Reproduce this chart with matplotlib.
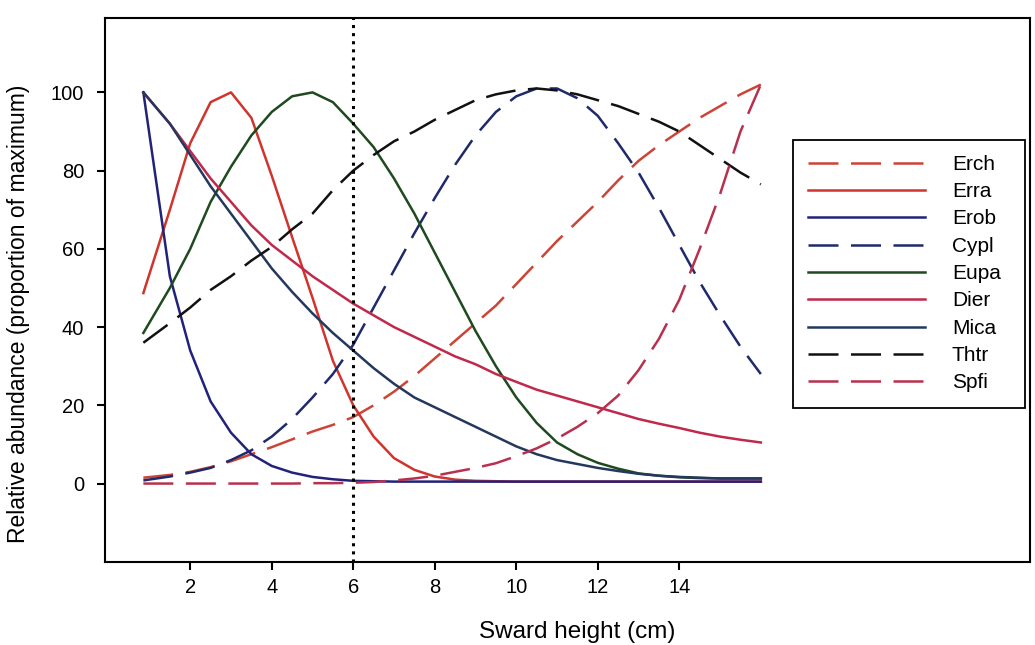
import matplotlib
matplotlib.use("Agg")
import matplotlib.pyplot as plt
from matplotlib.patches import Rectangle

plt.rcParams["font.family"] = ["Liberation Sans", "DejaVu Sans"]

# Sward height (cm) at which the curves were read
height = [0.85, 1.5, 2, 2.5, 3, 3.5, 4, 4.5, 5, 5.5, 6, 6.5, 7, 7.5, 8, 8.5,
          9, 9.5, 10, 10.5, 11, 11.5, 12, 12.5, 13, 13.5, 14, 14.5, 15, 15.5, 16]

# Relative abundance (proportion of maximum)
erch = [1.5, 2.2, 3, 4.2, 5.7, 7.5, 9.3, 11.3, 13.3, 15, 17, 20, 23.5, 27.5, 32, 36.5,
        41, 45.5, 51, 56.5, 62, 67, 72, 77.5, 82.5, 86.5, 90, 93.5, 96.5, 99.5, 102]
erra = [48.7, 70, 87, 97.5, 100, 93.5, 78.7, 63, 47.5, 31.4, 20, 12, 6.5, 3.5, 1.8, 1.0,
        0.7, 0.6, 0.5, 0.5, 0.5, 0.5, 0.5, 0.5, 0.5, 0.5, 0.5, 0.5, 0.5, 0.5, 0.5]
erob = [100, 53, 34, 21, 13, 7.5, 4.5, 2.8, 1.7, 1.1, 0.7, 0.6, 0.5, 0.5, 0.5, 0.5,
        0.5, 0.5, 0.5, 0.5, 0.5, 0.5, 0.5, 0.5, 0.5, 0.5, 0.5, 0.5, 0.5, 0.5, 0.5]
cypl = [0.8, 1.8, 2.8, 4, 6, 8.5, 12, 16.5, 22, 28, 35.5, 45, 54.5, 64, 73, 81.5,
        89, 95, 99, 101, 101, 98.5, 94, 87, 79.5, 70.5, 61, 51.5, 43, 35, 28]
eupa = [38.5, 50, 60, 72, 81, 89, 95, 99, 100, 97.5, 92, 86, 78, 69, 59, 49,
        39, 30, 22, 15.5, 10.5, 7.5, 5.3, 3.8, 2.6, 2, 1.6, 1.4, 1.3, 1.3, 1.3]
dier = [100, 92, 85, 78, 72, 66, 61, 57, 53, 49.5, 46, 43, 40, 37.5, 35, 32.5,
        30.5, 28, 26, 24, 22.5, 21, 19.5, 18, 16.5, 15.3, 14.2, 13, 12, 11.2, 10.5]
mica = [100, 92, 84, 76, 69, 62, 55, 49, 43.5, 38.5, 34, 29.5, 25.5, 22, 19.5, 17,
        14.5, 12, 9.5, 7.5, 6, 5, 4, 3.2, 2.5, 2, 1.7, 1.5, 1.3, 1.3, 1.3]
thtr = [36, 41, 45, 49.5, 53, 57, 60.5, 65, 69, 75, 80, 84, 87.5, 90, 93, 95.5,
        98, 99.5, 100.5, 101, 100.5, 99.5, 98, 96.5, 94.5, 92.5, 90, 86.5, 83, 79.5, 76.5]
spfi = [0, 0, 0, 0, 0, 0, 0, 0, 0.1, 0.1, 0.2, 0.4, 0.8, 1.3, 2, 3,
        4, 5.2, 7, 9, 11.5, 14.5, 18, 22.5, 29, 37, 47, 60, 74, 90, 102]

species = ["Erch", "Erra", "Erob", "Cypl", "Eupa", "Dier", "Mica", "Thtr", "Spfi"]
series = [erch, erra, erob, cypl, eupa, dier, mica, thtr, spfi]
colors = ["#cc4436", "#d0342c", "#22227a", "#1f2a6c", "#1f4a1f",
          "#c0284c", "#24385e", "#111111", "#b8304f"]
dashed = [True, False, False, True, False, False, False, True, True]

cut_height = 6

fig = plt.figure(figsize=(10.35, 6.45), dpi=100)
ax = fig.add_axes([0.1015, 0.129, 0.8935, 0.843])

for name, vals, col, d in zip(species, series, colors, dashed):
    line, = ax.plot(height, vals, color=col, lw=1.8, label=name)
    if d:
        line.set_dashes((12, 5))

ax.axvline(cut_height, color="black", lw=2.2, ls=":")

ax.set_xlim(-0.09, 22.6)
ax.set_ylim(-20, 119)
ax.set_xticks([2, 4, 6, 8, 10, 12, 14])
ax.set_yticks([0, 20, 40, 60, 80, 100])
ax.tick_params(direction="out", length=6, width=1.5, labelsize=14.5, pad=9)
ax.tick_params(axis="x", pad=6)
for s in ax.spines.values():
    s.set_linewidth(1.5)

ax.set_xlabel("Sward height (cm)", fontsize=17.5)
ax.set_ylabel("Relative abundance (proportion of maximum)", fontsize=16.5)
ax.xaxis.set_label_coords(0.511, -0.108)
ax.yaxis.set_label_coords(-0.081, 0.456)

# legend in a plain box like the original
leg = ax.legend(loc="upper left", bbox_to_anchor=(0.740, 0.783), frameon=False,
                fontsize=15, handlelength=5.6, handletextpad=1.3, labelspacing=0.40)
ax.add_patch(Rectangle((0.744, 0.283), 0.251, 0.493, transform=ax.transAxes,
                       fill=False, edgecolor="black", lw=1.3, zorder=5))

fig.savefig("out.png", dpi=100)
